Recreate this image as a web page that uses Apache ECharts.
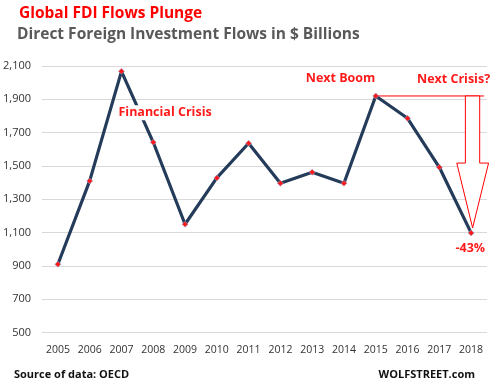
<!DOCTYPE html>
<html><head><meta charset="utf-8">
<script src="https://cdn.jsdelivr.net/npm/echarts@6/dist/echarts.min.js"></script>
<style>html,body{margin:0;padding:0;background:#fff}#c{width:492px;height:392px}</style>
</head><body><div id="c"></div>
<script>
const years = ['2005','2006','2007','2008','2009','2010','2011','2012','2013','2014','2015','2016','2017','2018'];
const fdiFlows = [910, 1410, 2068, 1642, 1150, 1428, 1636, 1396, 1462, 1396, 1920, 1786, 1492, 1098];
const yTicks = [500, 700, 900, 1100, 1300, 1500, 1700, 1900, 2100];
const titleText = 'Global FDI Flows Plunge';
const subtitleText = 'Direct Foreign Investment Flows in $ Billions';
const notes = {crisis: 'Financial Crisis', boom: 'Next Boom', next: 'Next Crisis?', drop: '-43%'};

const FONT = 'Open Sans';
const chart = echarts.init(document.getElementById('c'), null, {renderer: 'canvas'});
const option = {
  animation: false,
  grid: {left: 42, right: 5, top: 66, bottom: 59.5},
  xAxis: {
    type: 'category', data: years, boundaryGap: true,
    axisLine: {show: false}, axisTick: {show: false},
    axisLabel: {color: '#333', fontFamily: FONT, fontSize: 10.5, margin: 12, interval: 0, hideOverlap: false}
  },
  yAxis: {
    type: 'value', min: yTicks[0], max: yTicks[yTicks.length - 1], interval: 200,
    axisLine: {show: false}, axisTick: {show: false},
    splitLine: {lineStyle: {color: '#d9d9d9', width: 1}},
    axisLabel: {color: '#333', fontFamily: FONT, fontSize: 11, margin: 11,
      formatter: v => v.toLocaleString('en-US')}
  },
  series: [{
    type: 'line', data: fdiFlows, symbol: 'diamond', symbolSize: 6,
    lineStyle: {color: '#243b5a', width: 3.2},
    itemStyle: {color: '#ff1a1a', borderColor: '#8fa8d8', borderWidth: 0.6},
    z: 5
  }],
  graphic: [
    {type: 'text', left: 19, top: 6, style: {text: titleText, fill: '#ff0000', font: 'bold 15.5px "' + FONT + '"'}},
    {type: 'text', left: 17, top: 27, style: {text: subtitleText, fill: '#595959', font: 'bold 15.5px "' + FONT + '"'}},
    {type: 'text', left: 14, top: 369, style: {text: 'Source of data: OECD', fill: '#111', font: 'bold 11px "' + FONT + '"'}},
    {type: 'text', right: 17, top: 369, style: {text: 'WOLFSTREET.com', fill: '#111', font: 'bold 11px "' + FONT + '"'}}
  ]
};
chart.setOption(option);

// annotations positioned from data via the axes
const p = (i) => chart.convertToPixel({gridIndex: 0}, [i, fdiFlows[i]]);
const p2007 = p(2), p2015 = p(10), p2018 = p(13);
const step = p(1)[0] - p(0)[0];
const shaftL = p2018[0] - 0.18 * step, shaftR = p2018[0] + 0.27 * step;
const headL = p2018[0] - 0.45 * step, headR = p2018[0] + 0.55 * step;
const headY = p2015[1] + 0.49 * (p2018[1] - p2015[1]);
const extra = [
  {type: 'text', x: p2007[0] - 4, y: p2007[1] + 34, z: 10,
   style: {text: notes.crisis, fill: '#ff1a1a', font: 'bold 12.5px "' + FONT + '"', backgroundColor: '#fff', padding: [1, 1]}},
  {type: 'text', x: p2015[0] - 70, y: p2015[1] - 24, z: 10,
   style: {text: notes.boom, fill: '#ff1a1a', font: 'bold 12.5px "' + FONT + '"'}},
  {type: 'text', x: p2018[0] + 19, y: p2015[1] - 23, z: 10,
   style: {text: notes.next, fill: '#ff1a1a', font: 'bold 12.5px "' + FONT + '"', align: 'right'}},
  {type: 'text', x: p2018[0] + 14, y: p2018[1] + 9, z: 10,
   style: {text: notes.drop, fill: '#ff1a1a', font: 'bold 12.5px "' + FONT + '"', align: 'right'}},
  {type: 'line', z: 3, shape: {x1: p2015[0], y1: p2015[1], x2: p2018[0] + 13, y2: p2015[1]},
   style: {stroke: '#ff0000', lineWidth: 1}},
  {type: 'polygon', z: 4, shape: {points: [
     [shaftL, p2015[1]], [shaftR, p2015[1]], [shaftR, headY], [headR, headY],
     [p2018[0] + 1.5, p2018[1] - 5], [headL, headY], [shaftL, headY]]},
   style: {fill: '#fff', stroke: '#ff0000', lineWidth: 1}}
];
chart.setOption({graphic: option.graphic.concat(extra)});
</script></body></html>
